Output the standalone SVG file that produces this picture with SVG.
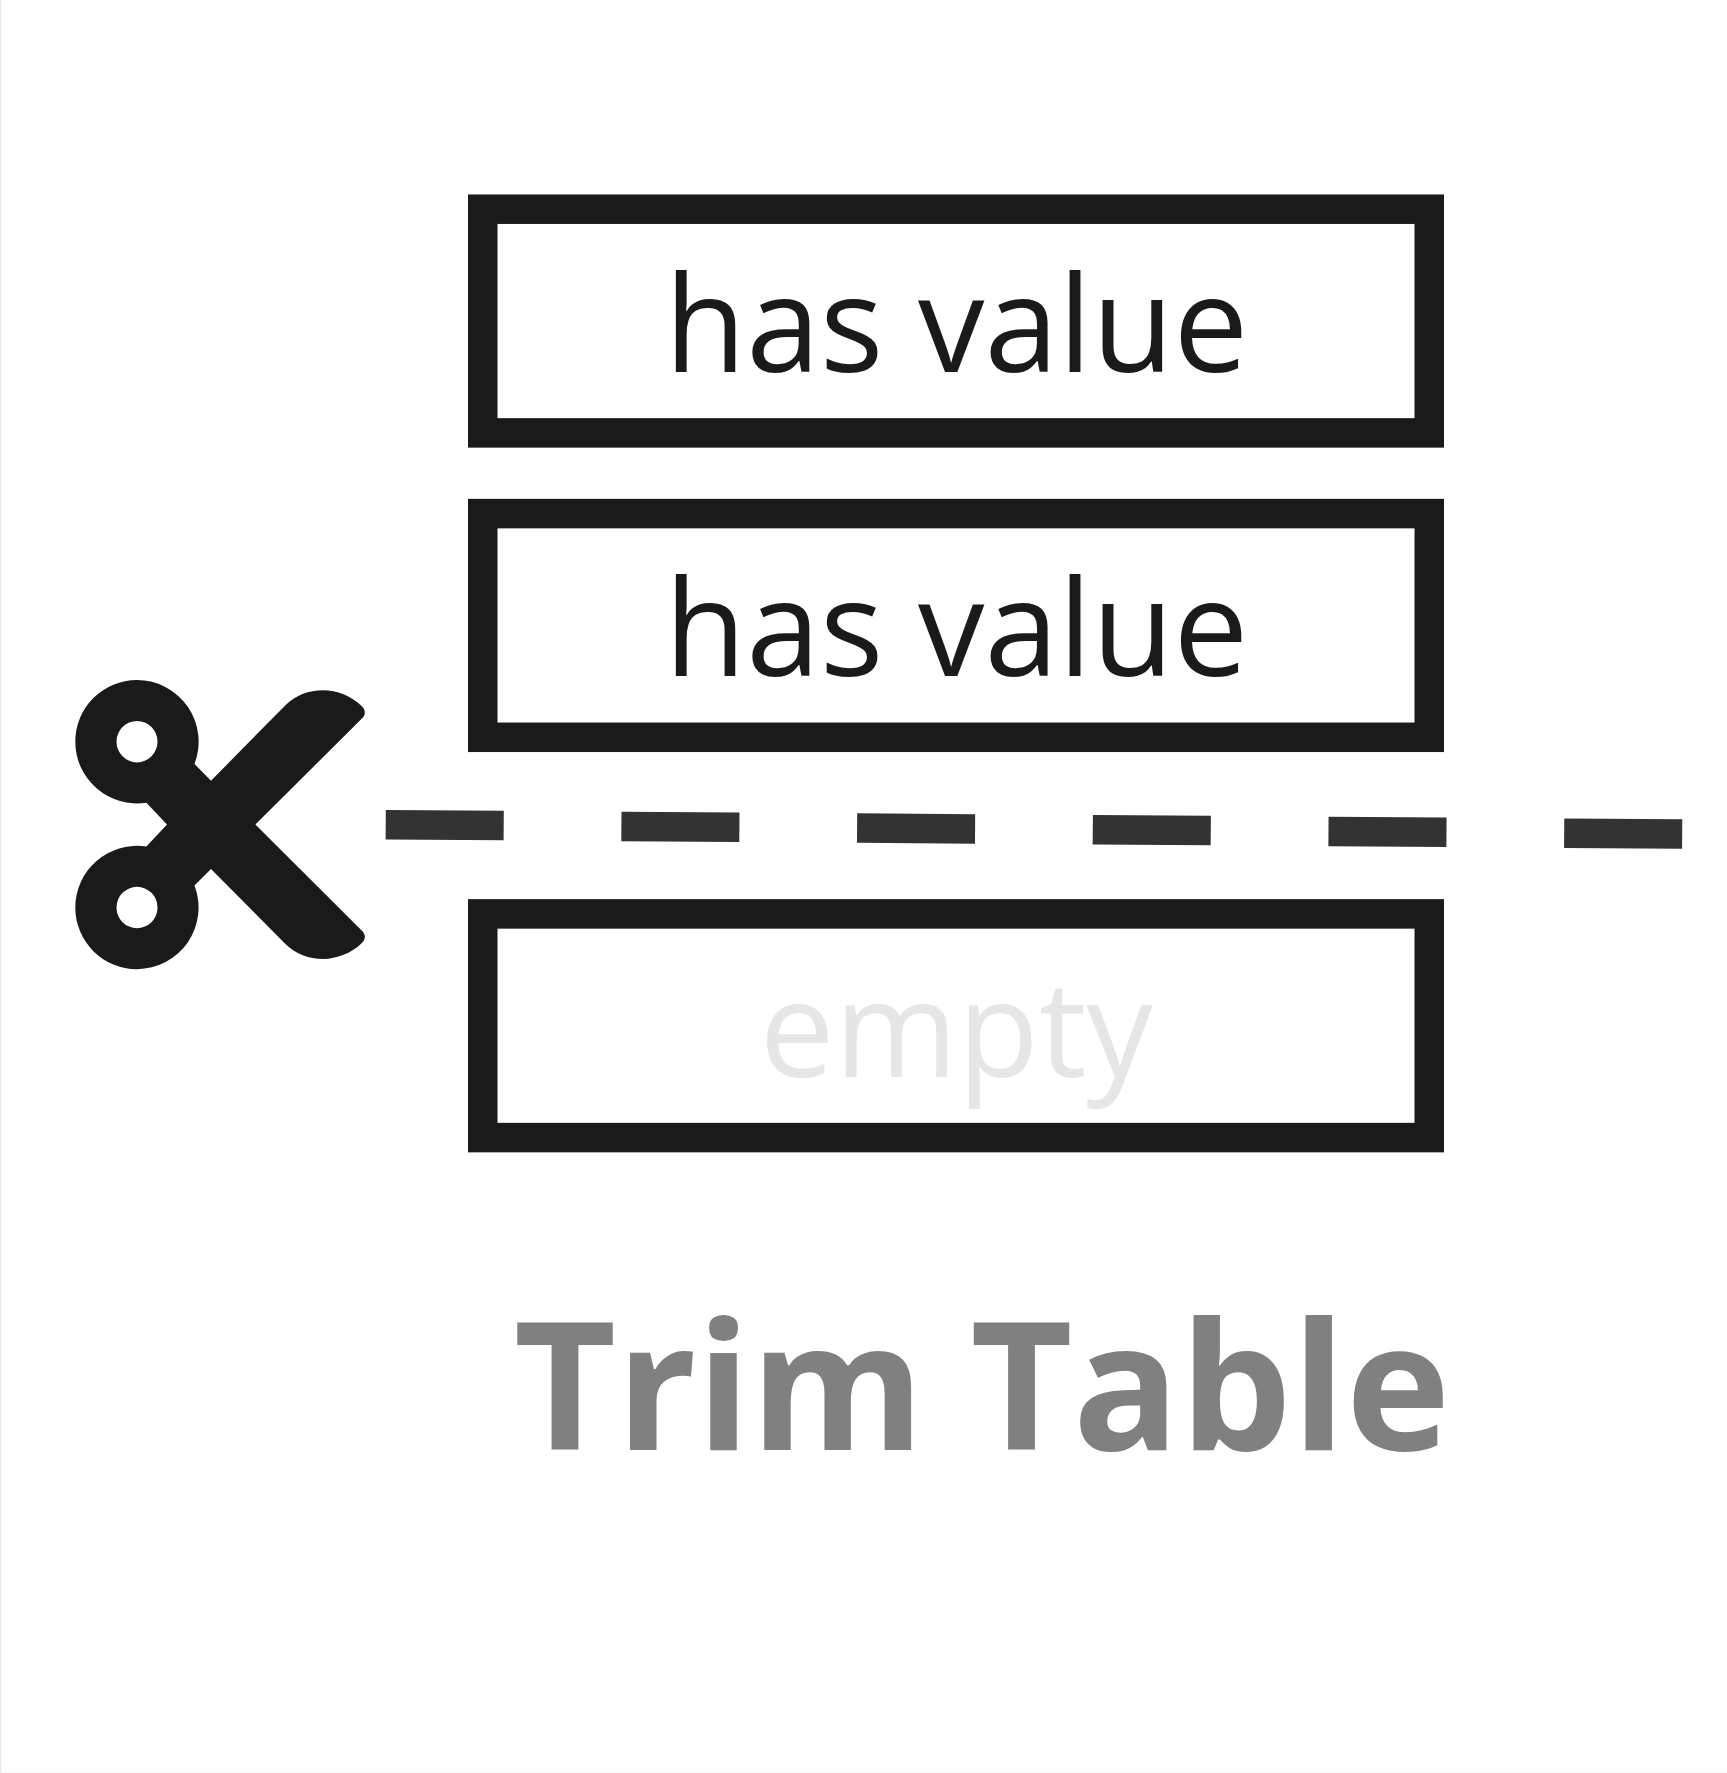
<svg xmlns="http://www.w3.org/2000/svg" width="1727" height="1773" viewBox="0 0 1727 1773">
<style>
.box{fill:#fff;stroke:#1a1a1a;stroke-width:29.5}
.val{font-family:"Open Sans","Liberation Sans",sans-serif;font-size:133px;text-anchor:middle;fill:#1a1a1a}
.title{font-family:"Open Sans","Liberation Sans",sans-serif;font-size:177px;font-weight:700;text-anchor:middle;fill:#808080}
</style>
<rect width="1727" height="1773" fill="#fff"/>
<rect x="0" y="0" width="1.2" height="1773" fill="#e8e8e8"/>
<rect x="0" y="1772" width="1727" height="1" fill="#f6f6f6"/>
<g id="connectors">
<path d="M385.7 824.7L1682.3 834" fill="none" stroke="#333" stroke-width="29.5" stroke-dasharray="118 117.7"/>
</g>
<g id="row1"><rect class="box" x="482.75" y="209.2" width="946.5" height="223.7"/><text class="val" x="956.4" y="371.9">has value</text></g>
<g id="row2"><rect class="box" x="482.75" y="513.6" width="946.5" height="223.7"/><text class="val" x="956.4" y="676.4">has value</text></g>
<g id="row3"><rect class="box" x="482.75" y="913.9" width="946.5" height="223.7"/><text class="val" x="956.4" y="1076.6" style="fill:#e6e6e6">empty</text></g>
<g id="scissors">
<path fill="#1a1a1a" fill-rule="evenodd" d="M137 680A61.7 61.7 0 0 1 194.5 763.9L211 780.7L285.7 705C296 695 309 690.3 323 690.3C337 690.3 351 696 361.4 705.7C366 710 366 715 361.4 719L255.4 824.5L361.4 930.3C366 934.3 366 939.3 361.4 943.6C351 953.3 337 959 323 959C309 959 296 954.3 285.7 944.3L211 869L194.5 885.5A61.7 61.7 0 0 1 137 969.2A61.7 61.7 0 0 1 75.3 907.5A61.7 61.7 0 0 1 146.4 846.5L167 824.5L146.4 802.7A61.7 61.7 0 0 1 75.3 741.7A61.7 61.7 0 0 1 137 680ZM137 721A20.5 20.7 0 1 0 137 762.4A20.5 20.7 0 1 0 137 721ZM137 886.8A20.5 20.7 0 1 0 137 928.2A20.5 20.7 0 1 0 137 886.8Z"/>
</g>
<g id="title"><text class="title" x="982" y="1450">Trim Table</text></g>
</svg>
